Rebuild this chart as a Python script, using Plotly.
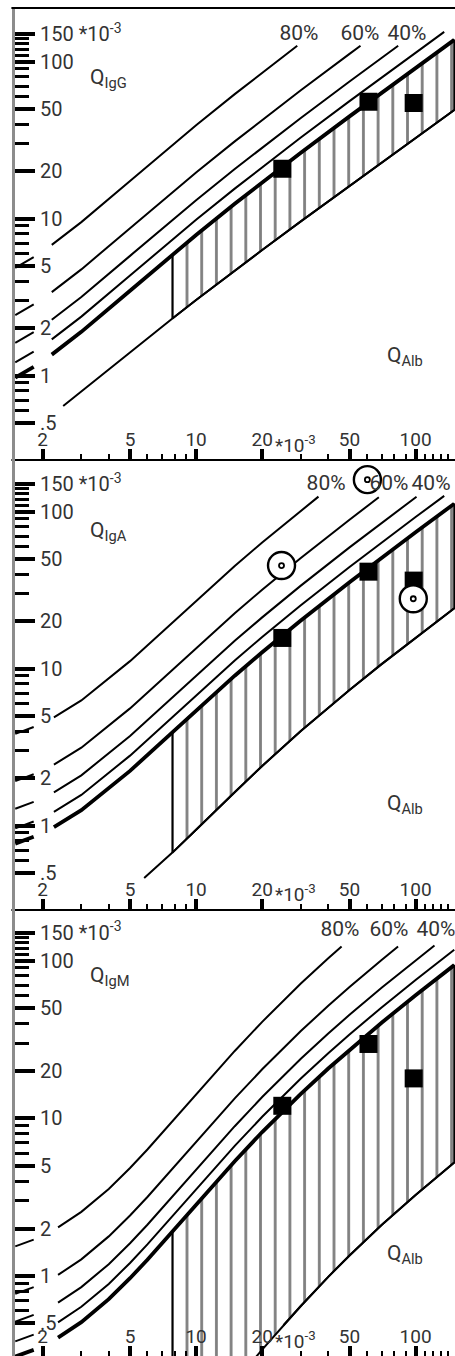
import plotly.graph_objects as go

# ---------------- data: x = Q_Alb, y = Q_Ig (both in units of 1e-3) ----------------
STUB_X = [1.5, 1.82]          # short pieces of the curves next to the y axis

# IgG panel
IGG_LIM_X = [2.2, 3, 5, 7.8, 10, 15, 20, 30, 50, 70, 100, 150]
IGG_LIM = [1.362, 1.902, 3.478, 5.903, 7.875, 12.435, 17.039, 26.293, 44.856, 63.44, 91.33, 137.82]
IGG_LIM_STUB = [0.971, 1.138]
IGG_20_X = [2.2, 3, 5, 7.8, 10, 15, 20, 30, 50, 70, 100, 135]
IGG_20 = [1.703, 2.378, 4.348, 7.379, 9.844, 15.544, 21.299, 32.866, 56.07, 79.30, 114.16, 154.8]
IGG_20_STUB = [1.214, 1.423]
IGG_40_X = [2.2, 3, 5, 7.8, 10, 15, 20, 30, 50, 70, 83.3]
IGG_40 = [2.270, 3.170, 5.797, 9.838, 13.125, 20.725, 28.398, 43.822, 74.76, 105.73, 126.4]
IGG_40_STUB = [1.619, 1.897]
IGG_60_X = [2.2, 3, 5, 7.8, 10, 15, 20, 30, 50, 56.1]
IGG_60 = [3.405, 4.755, 8.695, 14.758, 19.688, 31.088, 42.598, 65.733, 112.14, 126.4]
IGG_60_STUB = [2.428, 2.845]
IGG_80_X = [2.2, 3, 5, 7.8, 10, 15, 20, 28.9]
IGG_80 = [6.81, 9.51, 17.39, 29.515, 39.375, 62.175, 85.195, 126.4]
IGG_80_STUB = [4.856, 5.69]
IGG_LOW_X = [2.48, 3, 5, 7.8, 10, 15, 20, 30, 50, 70, 100, 150]
IGG_LOW = [0.642, 0.795, 1.415, 2.316, 3.033, 4.672, 6.317, 9.611, 16.207, 22.805, 32.703, 49.202]

# IgA panel
IGA_LIM_X = [2.25, 3, 5, 7.8, 10, 15, 20, 30, 50, 70, 100, 150]
IGA_LIM = [0.979, 1.256, 2.235, 3.950, 5.440, 9.026, 12.736, 20.293, 35.577, 50.926, 73.989, 112.459]
IGA_LIM_STUB = [0.769, 0.850]
IGA_20_X = [2.25, 3, 5, 7.8, 10, 15, 20, 30, 50, 70, 100, 135]
IGA_20 = [1.224, 1.570, 2.794, 4.938, 6.800, 11.283, 15.920, 25.366, 44.471, 63.658, 92.486, 126.1]
IGA_20_STUB = [0.961, 1.063]
IGA_40_X = [2.25, 3, 5, 7.8, 10, 15, 20, 30, 50, 70, 101]
IGA_40 = [1.632, 2.093, 3.725, 6.583, 9.067, 15.043, 21.227, 33.822, 59.295, 84.877, 124.6]
IGA_40_STUB = [1.282, 1.417]
IGA_60_X = [2.25, 3, 5, 7.8, 10, 15, 20, 30, 50, 68]
IGA_60 = [2.448, 3.140, 5.588, 9.875, 13.600, 22.565, 31.840, 50.733, 88.943, 123.5]
IGA_60_STUB = [1.923, 2.125]
IGA_80_X = [2.25, 3, 5, 7.8, 10, 15, 20, 30, 36.1]
IGA_80 = [4.895, 6.280, 11.175, 19.750, 27.200, 45.130, 63.680, 101.465, 124.7]
IGA_80_STUB = [3.845, 4.249]
IGA_LOW_X = [5.8, 7.8, 10, 15, 20, 30, 50, 70, 100, 150]
IGA_LOW = [0.464, 0.674, 0.943, 1.640, 2.401, 4.006, 7.325, 10.690, 15.763, 24.242]

# IgM panel
IGM_LIM_X = [2.35, 3, 4, 5, 6, 7.8, 10, 12, 15, 20, 25, 30, 40, 50, 70, 100, 150]
IGM_LIM = [0.407, 0.510, 0.713, 0.968, 1.268, 1.910, 2.838, 3.786, 5.345, 8.179, 11.188, 14.298,
           20.687, 27.195, 40.371, 60.301, 93.668]
IGM_LIM_STUB = [0.308, 0.340]
IGM_20_X = [2.35, 3, 4, 5, 6, 7.8, 10, 12, 15, 20, 25, 30, 40, 50, 70, 100, 150]
IGM_20 = [0.508, 0.638, 0.891, 1.210, 1.585, 2.388, 3.548, 4.733, 6.681, 10.224, 13.985, 17.873,
          25.859, 33.994, 50.464, 75.376, 117.085]
IGM_20_STUB = [0.385, 0.425]
IGM_40_X = [2.35, 3, 4, 5, 6, 7.8, 10, 12, 15, 20, 25, 30, 40, 50, 70, 100, 121.9]
IGM_40 = [0.678, 0.850, 1.188, 1.613, 2.113, 3.183, 4.730, 6.310, 8.908, 13.632, 18.647, 23.830,
          34.478, 45.325, 67.285, 100.502, 124.8]
IGM_40_STUB = [0.513, 0.567]
IGM_60_X = [2.35, 3, 4, 5, 6, 7.8, 10, 12, 15, 20, 25, 30, 40, 50, 70, 83.2]
IGM_60 = [1.016, 1.275, 1.783, 2.420, 3.170, 4.775, 7.095, 9.465, 13.363, 20.448, 27.970, 35.745,
          51.718, 67.988, 100.928, 122.8]
IGM_60_STUB = [0.770, 0.850]
IGM_80_X = [2.35, 3, 4, 5, 6, 7.8, 10, 12, 15, 20, 25, 30, 40, 46]
IGM_80 = [2.033, 2.550, 3.565, 4.840, 6.340, 9.550, 14.190, 18.930, 26.725, 40.895, 55.940, 71.490,
          103.435, 122.9]
IGM_80_STUB = [1.540, 1.700]
IGM_LOW_X = [7.8, 10, 12, 15, 20, 25, 30, 40, 50, 70, 100, 150]
IGM_LOW = [0.077, 0.111, 0.148, 0.213, 0.341, 0.487, 0.645, 0.988, 1.350, 2.104, 3.267, 5.239]
IGM_LOW_VISIBLE_FROM = 25

HATCH_FROM = 7.8

# patient values
PT_X = [24.7, 61.0, 98.0]
IGG_PT = [20.8, 55.6, 54.6]
IGA_PT = [15.7, 41.5, 36.4]
IGA_CIRCLE_X = [24.5, 60.3, 97.6]
IGA_CIRCLE = [45.4, 160.0, 27.9]
IGM_PT = [12.0, 29.6, 17.9]

# ticks
X_TICKS = [2, 5, 10, 20, 50, 100]
X_TICKTEXT = ["2", "5", "10", "20", "50", "100"]
X_MINOR = [3, 4, 6, 7, 8, 9, 30, 40, 60, 70, 80, 90, 110, 120, 130, 140, 150]
Y_TICKS = [0.5, 1, 2, 5, 10, 20, 50, 100, 150]
Y_TICKTEXT = [".5", "1", "2", "5", "10", "20", "50", "100", "150 *10<sup>-3</sup>"]
Y_MINOR = [0.6, 0.7, 0.8, 0.9, 3, 4, 6, 7, 8, 9, 30, 40, 60, 70, 80, 90, 110, 120, 130, 140]
PCT_LABELS = ["80%", "60%", "40%"]

# ---------------- figure ----------------
W, H = 455, 1356
FONT = "Roboto, 'Liberation Sans', Arial, sans-serif"
TXT = "#333333"
PANEL_TOP = [8.7, 458.7, 908.7]
PANEL_BOT = [458.7, 908.7, 1356]
YRANGES = [[-0.5287, 2.3376], [-0.5287, 2.3376], [-0.5073, 2.329]]
XRANGE = [0.1214, 2.1795]
X_DOMAIN = [3.25 / W, 1]

fig = go.Figure()


def axn(k):
    return "" if k == 0 else str(k + 1)


def curve(k, x, y, stub=None, width=2.0):
    xs, ys = list(x), list(y)
    if stub is not None:
        xs = STUB_X + [None] + xs
        ys = list(stub) + [None] + ys
    fig.add_trace(go.Scatter(x=xs, y=ys, mode="lines", line=dict(color="black", width=width),
                             xaxis="x" + axn(k), yaxis="y" + axn(k),
                             hoverinfo="skip", showlegend=False))


def hatch(k, lim_x, lim, low_x, low):
    i = lim_x.index(HATCH_FROM)
    j = low_x.index(HATCH_FROM)
    hx = lim_x[i:] + low_x[j:][::-1] + [lim_x[i]]
    hy = lim[i:] + low[j:][::-1] + [lim[i]]
    fig.add_trace(go.Scatter(x=hx, y=hy, mode="lines", fill="toself", fillcolor="white",
                             fillpattern=dict(shape="|", size=14.7, solidity=0.19,
                                              fgcolor="black", bgcolor="white"),
                             line=dict(color="black", width=2.0),
                             xaxis="x" + axn(k), yaxis="y" + axn(k),
                             hoverinfo="skip", showlegend=False))


def pct_labels(k, xs, yv):
    fig.add_trace(go.Scatter(x=xs, y=[yv] * 3, text=PCT_LABELS, mode="text",
                             textfont=dict(family=FONT, size=21, color=TXT),
                             textposition="middle center",
                             xaxis="x" + axn(k), yaxis="y" + axn(k),
                             hoverinfo="skip", showlegend=False))


def squares(k, x, y):
    fig.add_trace(go.Scatter(x=x, y=y, mode="markers",
                             marker=dict(symbol="square", size=18, color="black"),
                             xaxis="x" + axn(k), yaxis="y" + axn(k),
                             hoverinfo="skip", showlegend=False))


panels = [
    dict(lim=(IGG_LIM_X, IGG_LIM, IGG_LIM_STUB), low=(IGG_LOW_X, IGG_LOW),
         others=[(IGG_20_X, IGG_20, IGG_20_STUB), (IGG_40_X, IGG_40, IGG_40_STUB),
                 (IGG_60_X, IGG_60, IGG_60_STUB), (IGG_80_X, IGG_80, IGG_80_STUB)]),
    dict(lim=(IGA_LIM_X, IGA_LIM, IGA_LIM_STUB), low=(IGA_LOW_X, IGA_LOW),
         others=[(IGA_20_X, IGA_20, IGA_20_STUB), (IGA_40_X, IGA_40, IGA_40_STUB),
                 (IGA_60_X, IGA_60, IGA_60_STUB), (IGA_80_X, IGA_80, IGA_80_STUB)]),
    dict(lim=(IGM_LIM_X, IGM_LIM, IGM_LIM_STUB), low=(IGM_LOW_X, IGM_LOW),
         others=[(IGM_20_X, IGM_20, IGM_20_STUB), (IGM_40_X, IGM_40, IGM_40_STUB),
                 (IGM_60_X, IGM_60, IGM_60_STUB), (IGM_80_X, IGM_80, IGM_80_STUB)]),
]

for k, p in enumerate(panels):
    lx, ly, ls = p["lim"]
    wx, wy = p["low"]
    hatch(k, lx, ly, wx, wy)
    for ox, oy, os_ in p["others"]:
        curve(k, ox, oy, os_, width=2.0)
    if k == 2:
        vis = [(a, b) for a, b in zip(wx, wy) if a >= IGM_LOW_VISIBLE_FROM]
        curve(k, [a for a, _ in vis], [b for _, b in vis], None, width=2.0)
    else:
        curve(k, wx, wy, None, width=2.0)
    curve(k, lx, ly, ls, width=3.8)

squares(0, PT_X, IGG_PT)
squares(1, PT_X, IGA_PT)
squares(2, PT_X, IGM_PT)

# circled values (IgA)
fig.add_trace(go.Scatter(x=IGA_CIRCLE_X, y=IGA_CIRCLE, mode="markers",
                         marker=dict(symbol="circle", size=27, color="white",
                                     line=dict(color="black", width=2.4)),
                         xaxis="x2", yaxis="y2", hoverinfo="skip", showlegend=False))
fig.add_trace(go.Scatter(x=IGA_CIRCLE_X, y=IGA_CIRCLE, mode="markers",
                         marker=dict(symbol="circle-open", size=5, color="black",
                                     line=dict(color="black", width=1.8)),
                         xaxis="x2", yaxis="y2", hoverinfo="skip", showlegend=False))

pct_labels(0, [29.4, 55.8, 91.4], 147.9)
pct_labels(1, [39.1, 75.6, 117.6], 149.4)
pct_labels(2, [45.2, 75.6, 123.8], 154.1)

layout = dict(width=W, height=H, margin=dict(l=0, r=0, t=0, b=0),
              paper_bgcolor="white", plot_bgcolor="white", showlegend=False,
              font=dict(family=FONT, color=TXT))

for k in range(3):
    s = axn(k)
    layout["xaxis" + s] = dict(
        type="log", range=XRANGE, domain=X_DOMAIN, anchor="y" + s,
        showline=True, linecolor="black", linewidth=2, mirror=(k == 0),
        ticks="inside", ticklen=10, tickwidth=4, tickcolor="black",
        tickmode="array", tickvals=X_TICKS, ticktext=X_TICKTEXT,
        ticklabelposition="inside", ticklabeloverflow="allow",
        tickfont=dict(family=FONT, size=19, color=TXT),
        minor=dict(tickmode="array", tickvals=X_MINOR, ticks="inside", ticklen=5,
                   tickwidth=2, tickcolor="black", showgrid=False),
        showgrid=False, zeroline=False, fixedrange=True)
    layout["yaxis" + s] = dict(
        type="log", range=YRANGES[k],
        domain=[1 - PANEL_BOT[k] / H, 1 - PANEL_TOP[k] / H],
        anchor="free", position=13 / W,
        showline=True, linecolor="#8c8c8c", linewidth=3,
        ticks="inside", ticklen=20, tickwidth=4, tickcolor="black",
        tickmode="array", tickvals=Y_TICKS, ticktext=Y_TICKTEXT,
        ticklabelposition="inside", ticklabeloverflow="allow", ticklabelstandoff=6,
        tickfont=dict(family=FONT, size=20, color=TXT),
        minor=dict(tickmode="array", tickvals=Y_MINOR, ticks="inside", ticklen=14,
                   tickwidth=2.5, tickcolor="black", showgrid=False),
        showgrid=False, zeroline=False, fixedrange=True)

fig.update_layout(**layout)

# white strip left of the y axes (hides x-axis line stubs)
fig.add_shape(type="rect", xref="paper", yref="paper", x0=0, x1=11.4 / W, y0=0, y1=1,
              fillcolor="white", line=dict(width=0), layer="above")


def ann(text, px, pyy, size, xanchor="left"):
    fig.add_annotation(text=text, xref="paper", yref="paper", x=px / W, y=1 - pyy / H,
                       xanchor=xanchor, yanchor="middle", showarrow=False,
                       font=dict(family=FONT, size=size, color=TXT))


for k, name in enumerate(["IgG", "IgA", "IgM"]):
    ann("Q<sub>%s</sub>" % name, 88, [79, 531, 976][k], 21)
    ann("Q<sub>Alb</sub>", 385, [356, 804, 1254][k], 21)
    ann("*10<sup>-3</sup>", 273, [444, 893, 1340][k], 19)

fig.write_html("out.html")
